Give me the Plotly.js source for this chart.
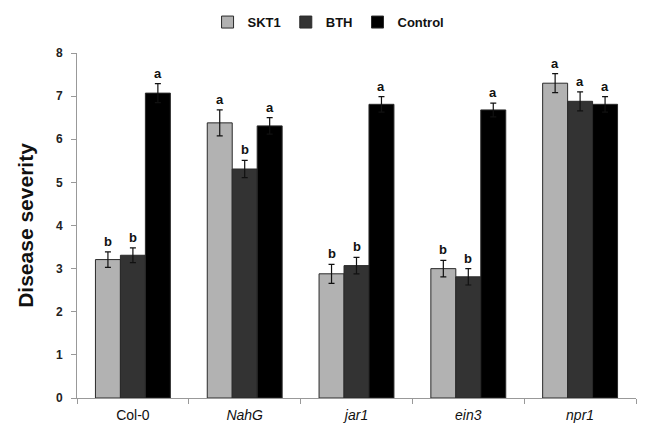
<!DOCTYPE html>
<html><head><meta charset="utf-8">
<script src="https://cdn.plot.ly/plotly-3.0.1.min.js"></script>
<style>body{margin:0;background:#fff}#chart{width:654px;height:442px}</style>
</head><body><div id="chart"></div>
<script>
const categories = ['Col-0','NahG','jar1','ein3','npr1'];
const tickLabels = ['Col-0','<i>NahG</i>','<i>jar1</i>','<i>ein3</i>','<i>npr1</i>'];
const seriesNames = ['SKT1','BTH','Control'];
const skt1 = [3.21, 6.38, 2.88, 3.0, 7.3];
const bth = [3.31, 5.31, 3.07, 2.81, 6.88];
const control = [7.07, 6.31, 6.81, 6.68, 6.81];
const skt1Err = [0.18, 0.3, 0.22, 0.19, 0.22];
const bthErr = [0.17, 0.2, 0.19, 0.19, 0.22];
const controlErr = [0.22, 0.19, 0.18, 0.16, 0.18];
const skt1Letters = ['b','a','b','b','a'];
const bthLetters = ['b','b','b','b','a'];
const controlLetters = ['a','a','a','a','a'];

const values = [skt1, bth, control];
const errs = [skt1Err, bthErr, controlErr];
const letters = [skt1Letters, bthLetters, controlLetters];
const colors = ['#b2b2b2', '#333333', '#000000'];
const bargap = 0.33;

const traces = seriesNames.map((name, s) => ({
  type: 'bar', name: name, x: categories, y: values[s],
  marker: {color: colors[s], line: {color: '#2a2a2a', width: 1}},
  error_y: {type: 'data', array: errs[s], visible: true, color: '#111', thickness: 1.2, width: 3}
}));

const annotations = [];
const groupW = 1 - bargap, barW = groupW / seriesNames.length;
seriesNames.forEach((name, s) => {
  categories.forEach((c, i) => {
    annotations.push({
      xref: 'x', yref: 'y',
      x: i - groupW / 2 + barW * (s + 0.5),
      y: values[s][i] + errs[s][i],
      text: letters[s][i], showarrow: false, yanchor: 'bottom', yshift: 1,
      font: {family: 'Arial, Liberation Sans', size: 13, color: '#111', weight: 'bold'}
    });
  });
});

const layout = {
  width: 654, height: 442,
  margin: {l: 77, r: 18, t: 53, b: 44},
  paper_bgcolor: '#fff', plot_bgcolor: '#fff',
  barmode: 'group', bargap: bargap, bargroupgap: 0,
  showlegend: true,
  legend: {orientation: 'h', x: 0.45, xanchor: 'center', yref: 'container', y: 0.95, yanchor: 'middle',
    font: {family: 'Arial, Liberation Sans', size: 13, color: '#111', weight: 'bold'},
    itemwidth: 30, tracegroupgap: 0},
  xaxis: {
    type: 'category', tickmode: 'array', tickvals: categories, ticktext: tickLabels,
    tickson: 'boundaries', ticks: 'outside', ticklen: 5, tickcolor: '#999',
    ticklabelstandoff: 4,
    showline: true, linecolor: '#999', linewidth: 1, showgrid: false, zeroline: false,
    tickfont: {family: 'Arial, Liberation Sans', size: 14, color: '#111'}
  },
  yaxis: {
    range: [0, 8], dtick: 1, ticks: 'outside', ticklen: 5, tickcolor: '#999',
    ticklabelstandoff: 6,
    showline: true, linecolor: '#999', linewidth: 1, showgrid: false, zeroline: false,
    tickfont: {family: 'Arial, Liberation Sans', size: 12, color: '#222', weight: 'bold'},
    title: {text: 'Disease severity', standoff: 16,
      font: {family: 'Arial, Liberation Sans', size: 21, color: '#111', weight: 'bold'}}
  },
  annotations: annotations
};
Plotly.newPlot('chart', traces, layout, {displayModeBar: false, staticPlot: true});
</script></body></html>
